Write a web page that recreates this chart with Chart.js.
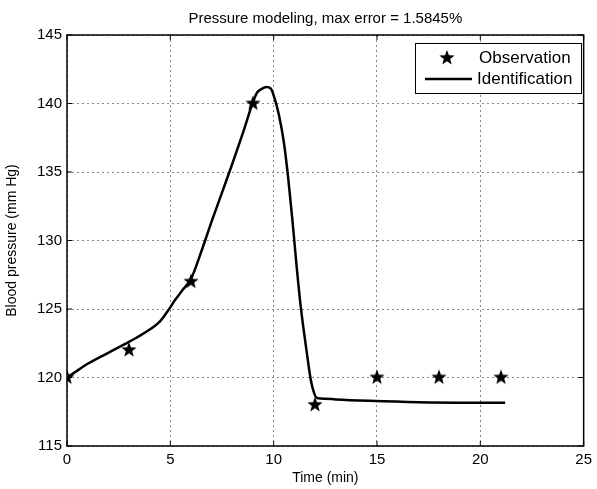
<!DOCTYPE html>
<html>
<head>
<meta charset="utf-8">
<script src="https://cdn.jsdelivr.net/npm/chart.js@4"></script>
<style>
	html, body { margin: 0; padding: 0; background: #fff; }
	canvas { display: block; }
</style>
</head>
<body>
<canvas id="pressureChart" width="597" height="489"></canvas>
<script>
// Observations (stars)
const obsTime = [0, 3, 6, 9, 12, 15, 18, 21];
const obsPressure = [120, 122, 127, 140, 118, 120, 120, 120];

// Identified model curve
const idTime = [0, 0.5, 1, 2, 3, 3.8, 4.5, 4.9, 5.2, 5.6, 6, 6.5, 7, 7.5, 8, 8.5, 9, 9.2, 9.4, 9.65, 9.85, 10, 10.25, 10.5, 10.7, 10.9, 11.1, 11.3, 11.45, 11.65, 11.8, 11.95, 12.1, 12.5, 13, 14.6, 17, 21.2];
const idPressure = [120, 120.5, 121, 121.8, 122.6, 123.3, 124.1, 124.9, 125.6, 126.4, 127.2, 129.2, 131.4, 133.5, 135.6, 137.8, 140.1, 140.8, 141.05, 141.2, 141.1, 140.6, 139.2, 137.1, 134.6, 131.6, 128.3, 125.3, 123.5, 121.3, 119.8, 118.9, 118.5, 118.45, 118.4, 118.3, 118.2, 118.15];

const xTicks = [0, 5, 10, 15, 20, 25];
const yTicks = [115, 120, 125, 130, 135, 140, 145];

const FONT = "'Liberation Sans', Arial, sans-serif";

// filled five point star used as point marker
function makeStar(r) {
	const c = document.createElement('canvas');
	const size = Math.ceil(r * 2 + 2);
	c.width = size; c.height = size;
	const g = c.getContext('2d');
	const cx = size / 2, cy = size / 2, inner = r * 0.42;
	g.beginPath();
	for (let i = 0; i < 10; i++) {
		const rad = i % 2 === 0 ? r : inner;
		const a = -Math.PI / 2 + i * Math.PI / 5;
		g.lineTo(cx + rad * Math.cos(a), cy + rad * Math.sin(a));
	}
	g.closePath();
	g.fillStyle = '#000';
	g.fill();
	return c;
}
const star = makeStar(8);

// box, inward ticks and legend, MATLAB style
const frame = {
	id: 'frame',
	afterDraw(chart) {
		const { ctx, chartArea: a, scales } = chart;
		ctx.save();
		ctx.strokeStyle = '#000';
		ctx.lineWidth = 1.5;
		ctx.strokeRect(a.left, a.top, a.right - a.left, a.bottom - a.top);
		ctx.lineWidth = 1;
		ctx.beginPath();
		xTicks.forEach(v => {
			const x = scales.x.getPixelForValue(v);
			ctx.moveTo(x, a.bottom); ctx.lineTo(x, a.bottom - 5);
			ctx.moveTo(x, a.top); ctx.lineTo(x, a.top + 5);
		});
		yTicks.forEach(v => {
			const y = scales.y.getPixelForValue(v);
			ctx.moveTo(a.left, y); ctx.lineTo(a.left + 5, y);
			ctx.moveTo(a.right, y); ctx.lineTo(a.right - 5, y);
		});
		ctx.stroke();

		// legend
		const bx = 415, by = 43, bw = 166, bh = 50;
		ctx.fillStyle = '#fff';
		ctx.fillRect(bx, by, bw, bh);
		ctx.lineWidth = 1;
		ctx.strokeRect(bx + 0.5, by + 0.5, bw, bh);
		ctx.drawImage(star, 447 - star.width / 2, 58 - star.height / 2);
		ctx.lineWidth = 2.5;
		ctx.beginPath();
		ctx.moveTo(425, 79); ctx.lineTo(472, 79);
		ctx.stroke();
		ctx.fillStyle = '#000';
		ctx.font = '17px ' + FONT;
		ctx.textBaseline = 'middle';
		ctx.textAlign = 'left';
		ctx.fillText(chart.data.datasets[0].label, 479, 58);
		ctx.fillText(chart.data.datasets[1].label, 477, 79);
		ctx.restore();
	}
};

Chart.defaults.color = '#000';
Chart.defaults.font.family = FONT;

new Chart(document.getElementById('pressureChart'), {
	type: 'scatter',
	data: {
		datasets: [{
			label: 'Observation',
			data: obsTime.map((t, i) => ({ x: t, y: obsPressure[i] })),
			pointStyle: star,
			showLine: false
		}, {
			label: 'Identification',
			data: idTime.map((t, i) => ({ x: t, y: idPressure[i] })),
			showLine: true,
			borderColor: '#000',
			borderWidth: 2.5,
			pointRadius: 0,
			cubicInterpolationMode: 'monotone'
		}]
	},
	options: {
		responsive: false,
		animation: false,
		devicePixelRatio: 1,
		layout: { padding: { left: 0, right: 10, top: 0, bottom: 0 } },
		plugins: {
			legend: { display: false },
			tooltip: { enabled: false },
			title: {
				display: true,
				fullSize: false,
				text: 'Pressure modeling, max error = 1.5845%',
				font: { size: 15, weight: 'normal' },
				padding: { top: 10, bottom: 7 }
			}
		},
		scales: {
			x: {
				type: 'linear',
				min: 0,
				max: 25,
				afterFit: s => { s.height = 43; },
				afterBuildTicks: s => { s.ticks = xTicks.map(v => ({ value: v })); },
				ticks: { font: { size: 15 }, padding: 5, maxRotation: 0 },
				grid: { color: '#888', lineWidth: 1, drawTicks: false },
				border: { display: false, dash: [2, 3] },
				title: { display: true, text: 'Time (min)', font: { size: 14 }, padding: { top: 4, bottom: 2 } }
			},
			y: {
				min: 115,
				max: 145,
				afterFit: s => { s.width = 67; },
				afterBuildTicks: s => { s.ticks = yTicks.map(v => ({ value: v })); },
				ticks: { font: { size: 15 }, padding: 5 },
				grid: { color: '#888', lineWidth: 1, drawTicks: false },
				border: { display: false, dash: [2, 3] },
				title: { display: true, text: 'Blood pressure (mm Hg)', font: { size: 14 }, padding: { top: 4, bottom: 4 } }
			}
		}
	},
	plugins: [frame]
});
</script>
</body>
</html>
